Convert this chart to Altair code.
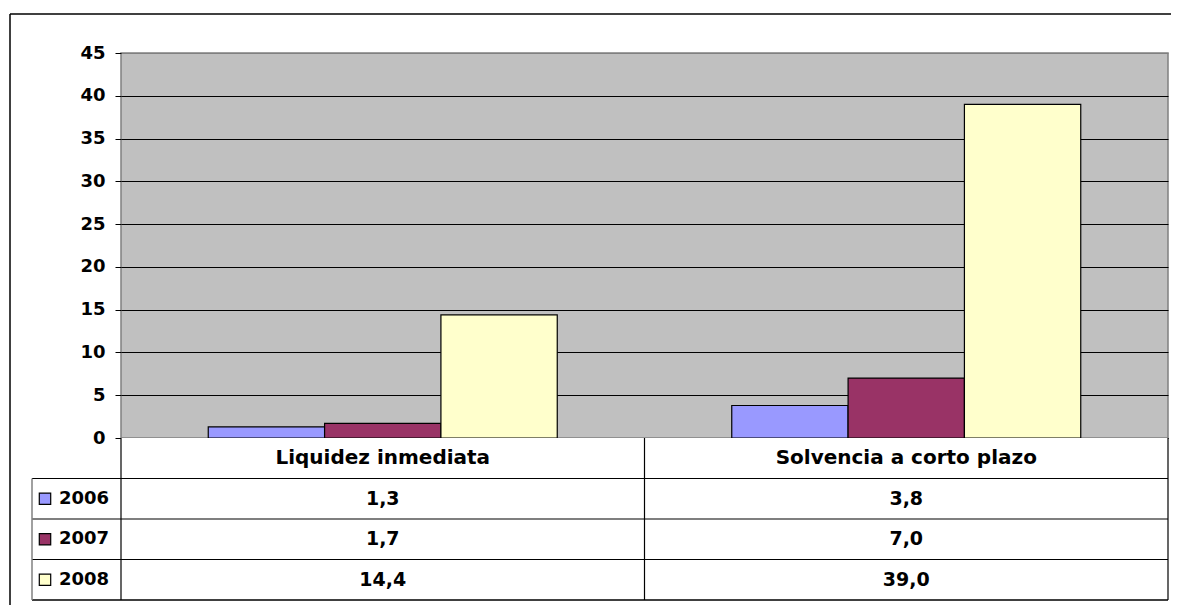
import altair as alt
import pandas as pd

categorias = ["Liquidez inmediata", "Solvencia a corto plazo"]
anios = ["2006", "2007", "2008"]
valores_2006 = [1.3, 3.8]
valores_2007 = [1.7, 7.0]
valores_2008 = [14.4, 39.0]
colores = ["#9999FF", "#993366", "#FFFFCC"]
y_ticks = [0, 5, 10, 15, 20, 25, 30, 35, 40, 45]

FONT = "DejaVu Sans"

rows = []
for anio, vals in zip(anios, [valores_2006, valores_2007, valores_2008]):
    for cat, v in zip(categorias, vals):
        rows.append({"categoria": cat, "anio": anio, "valor": v,
                     "etiqueta": f"{v:.1f}".replace(".", ",")})
df = pd.DataFrame(rows)
df_cat = pd.DataFrame({"categoria": categorias, "fila": ["hdr", "hdr"]})
df_anio = pd.DataFrame({"anio": anios})
df_one = pd.DataFrame({"a": [0]})

W, H = 1047, 385
TH = 162

bars = alt.Chart(df).mark_bar(stroke="black", strokeWidth=1.2).encode(
    x=alt.X("categoria:N", sort=categorias,
            scale=alt.Scale(paddingInner=1 / 3, paddingOuter=1 / 6), axis=None),
    xOffset=alt.XOffset("anio:N", sort=anios,
                        scale=alt.Scale(paddingInner=0, paddingOuter=0)),
    y=alt.Y("valor:Q", scale=alt.Scale(domain=[0, 45], nice=False),
            axis=alt.Axis(values=y_ticks, title=None, grid=True,
                          gridColor={"condition": {"test": "datum.value == 45", "value": "#808080"},
                                     "value": "black"},
                          gridWidth=1, tickColor="black", tickSize=6,
                          labelFontSize=18, labelFontWeight="bold", labelFont=FONT,
                          labelColor="black", labelPadding=10, domain=False)),
    color=alt.Color("anio:N", scale=alt.Scale(domain=anios, range=colores), legend=None),
)

frame_top = alt.Chart(df_one).mark_rule(color="black", strokeWidth=1.5).encode(
    x=alt.value(-111), x2=alt.value(1050), y=alt.value(-39))
frame_left = alt.Chart(df_one).mark_rule(color="black", strokeWidth=1.5).encode(
    x=alt.value(-111), y=alt.value(-39), y2=alt.value(552))

top = alt.layer(frame_top, frame_left, bars).properties(
    width=W, height=H, view=alt.ViewBackground(fill="#C0C0C0", stroke="#808080", strokeWidth=1.5))

xs = alt.X("categoria:N", sort=categorias,
           scale=alt.Scale(paddingInner=0, paddingOuter=0), axis=None)
ydom = alt.Scale(domain=["hdr"] + anios, paddingInner=0, paddingOuter=0)

hdr_text = alt.Chart(df_cat).mark_text(font=FONT, fontWeight="bold", fontSize=20,
                                       color="black").encode(
    x=xs, y=alt.Y("fila:N", scale=ydom, axis=None), text="categoria:N")

val_text = alt.Chart(df).mark_text(font=FONT, fontWeight="bold", fontSize=19,
                                   color="black").encode(
    x=xs, y=alt.Y("anio:N", scale=ydom, axis=None), text="etiqueta:N")

hlines = alt.Chart(df_anio).mark_rule(color="black", strokeWidth=1.2).encode(
    y=alt.Y("anio:N", scale=ydom, axis=None, bandPosition=0),
    x=alt.value(-89), x2=alt.value(W))
hbottom = alt.Chart(df_one).mark_rule(color="black", strokeWidth=1.5).encode(
    y=alt.value(TH), x=alt.value(-89), x2=alt.value(W))
vlines = alt.Chart(df_cat).mark_rule(color="black", strokeWidth=1.2).encode(
    x=alt.X("categoria:N", sort=categorias,
            scale=alt.Scale(paddingInner=0, paddingOuter=0), axis=None, bandPosition=0),
    y=alt.value(0), y2=alt.value(TH))
vright = alt.Chart(df_one).mark_rule(color="black", strokeWidth=1.2).encode(
    x=alt.value(W), y=alt.value(0), y2=alt.value(TH))
vleft = alt.Chart(df_anio.head(1)).mark_rule(color="#808080", strokeWidth=1.5).encode(
    x=alt.value(-89), y=alt.Y("anio:N", scale=ydom, axis=None, bandPosition=0),
    y2=alt.value(TH))

squares = alt.Chart(df_anio).mark_point(shape="square", filled=True, size=130,
                                        stroke="black", strokeWidth=1.2, opacity=1).encode(
    x=alt.value(-76), y=alt.Y("anio:N", scale=ydom, axis=None),
    fill=alt.Color("anio:N", scale=alt.Scale(domain=anios, range=colores), legend=None))
year_text = alt.Chart(df_anio).mark_text(font=FONT, fontWeight="bold", fontSize=18,
                                         color="black", align="left").encode(
    x=alt.value(-62), y=alt.Y("anio:N", scale=ydom, axis=None), text="anio:N")

table = alt.layer(hlines, hbottom, vlines, vright, vleft, hdr_text, val_text,
                  squares, year_text).properties(
    width=W, height=TH, view=alt.ViewBackground(fill="white", stroke=None))

chart = alt.vconcat(top, table, spacing=0, bounds="flush").resolve_scale(
    color="independent", fill="independent").properties(
    padding={"left": 0, "top": 4, "right": 0, "bottom": 0},
    background="white")

chart.save("out.html", embed_options={"renderer": "svg", "actions": False})
